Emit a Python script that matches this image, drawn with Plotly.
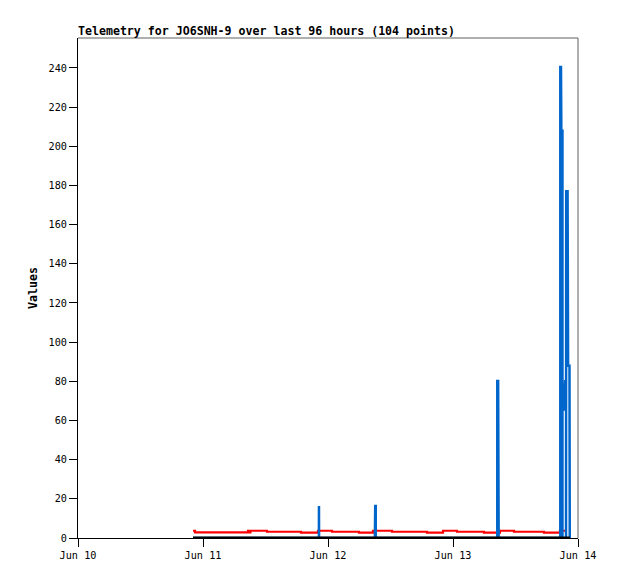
import plotly.graph_objects as go

# ---- data ----
title_text = "Telemetry for JO6SNH-9 over last 96 hours (104 points)"
y_label = "Values"

red_times = ["2024-06-10 22:05", "2024-06-10 22:28", "2024-06-11 08:38", "2024-06-11 08:54",
             "2024-06-11 09:06", "2024-06-11 12:17", "2024-06-11 18:49", "2024-06-11 22:05",
             "2024-06-12 00:46", "2024-06-12 05:57", "2024-06-12 08:38", "2024-06-12 12:17",
             "2024-06-12 19:00", "2024-06-12 22:05", "2024-06-13 00:46", "2024-06-13 05:57",
             "2024-06-13 09:01", "2024-06-13 11:43", "2024-06-13 17:28", "2024-06-13 20:32",
             "2024-06-13 21:42"]
red_values = [3.7, 2.9, 3.7, 2.9, 3.7, 3.2, 2.7, 3.7, 3.2, 2.7, 3.7, 3.2, 2.7, 3.7, 3.2, 2.7,
              3.7, 3.2, 2.7, 3.7, 3.7]

blue_times = ["2024-06-10 22:05",
              "2024-06-11 22:15", "2024-06-11 22:16", "2024-06-11 22:17",
              "2024-06-12 09:00", "2024-06-12 09:00", "2024-06-12 09:04", "2024-06-12 09:04",
              "2024-06-12 09:10", "2024-06-12 09:10",
              "2024-06-13 08:30", "2024-06-13 08:30", "2024-06-13 08:40", "2024-06-13 08:40",
              "2024-06-13 08:46", "2024-06-13 08:46",
              "2024-06-13 20:36", "2024-06-13 20:36", "2024-06-13 20:44", "2024-06-13 20:48",
              "2024-06-13 21:01", "2024-06-13 21:01",
              "2024-06-13 21:08",
              "2024-06-13 21:15", "2024-06-13 21:21", "2024-06-13 21:28", "2024-06-13 21:36",
              "2024-06-13 21:39",
              "2024-06-13 21:42", "2024-06-13 21:44", "2024-06-13 22:00", "2024-06-13 22:06",
              "2024-06-13 22:22", "2024-06-13 22:25"]
blue_values = [0,
               0, 16.3, 0,
               0, 8.3, 8.3, 16.3,
               16.3, 0,
               0, 80.2, 80.2, 40.3,
               40.3, 0,
               0, 240.5, 240.5, 208,
               208, 0,
               None,
               79, 65, 80.7, 69,
               None,
               0, 177, 177, 88,
               88, 0]

black_times = ["2024-06-10 22:05", "2024-06-13 22:28"]
black_values = [0, 0]

x_range = ["2024-06-10 00:00", "2024-06-14 00:00"]
y_range = [0, 255.3]

fig = go.Figure()
fig.add_trace(go.Scatter(x=red_times, y=red_values, mode="lines",
                         line=dict(color="#ff0000", width=2.2, shape="hv"),
                         hoverinfo="skip", showlegend=False))
fig.add_trace(go.Scatter(x=blue_times, y=blue_values, mode="lines", connectgaps=False,
                         line=dict(color="#0066cc", width=2.5),
                         hoverinfo="skip", showlegend=False))
fig.add_trace(go.Scatter(x=black_times, y=black_values, mode="lines",
                         line=dict(color="#000000", width=3),
                         hoverinfo="skip", showlegend=False))

mono = "DejaVu Sans Mono"
W, H = 618, 579
fig.update_layout(
    width=W, height=H,
    margin=dict(l=70, r=48, t=30, b=49),
    paper_bgcolor="white", plot_bgcolor="white",
    font=dict(family=mono, size=10, color="black"),
    title=dict(text="<b>" + title_text + "</b>", x=70/W, xanchor="left",
               y=1 - 23/H, yanchor="middle", font=dict(family=mono, size=11.6, color="black")),
    xaxis=dict(range=x_range, type="date", tickformat="%b %d", dtick=86400000,
               tick0="2024-06-10", ticks="outside", ticklen=8, tickcolor="black",
               showgrid=False, zeroline=False, showline=True, linecolor="black", linewidth=1,
               tickfont=dict(family=mono, size=10.2, color="black")),
    yaxis=dict(range=y_range, dtick=20, ticks="outside", ticklen=8, tickcolor="black",
               showgrid=False, zeroline=False, showline=True, linecolor="black", linewidth=1,
               tickfont=dict(family=mono, size=10.2, color="black"),
               title=dict(text="<b>" + y_label + "</b>", standoff=8,
                          font=dict(family=mono, size=11.6, color="black"))),
    shapes=[
        dict(type="line", xref="paper", yref="paper", x0=0, x1=1, y0=1, y1=1,
             line=dict(color="#606060", width=1)),
        dict(type="line", xref="paper", yref="paper", x0=1, x1=1, y0=0, y1=1,
             line=dict(color="#606060", width=1)),
    ],
)

fig.write_html("out.html")
